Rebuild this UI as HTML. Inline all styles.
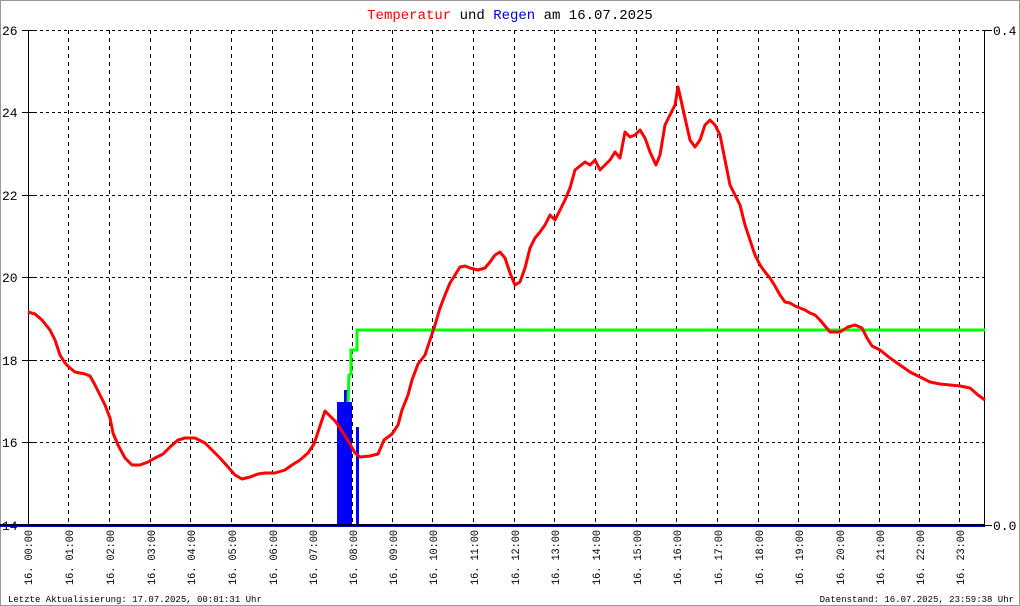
<!DOCTYPE html>
<html><head><meta charset="utf-8"><style>
html,body{margin:0;padding:0;background:#fff}
svg{display:block}
text{font-family:"Liberation Mono",monospace}
</style></head><body>
<svg width="1020" height="606" viewBox="0 0 1020 606" xmlns="http://www.w3.org/2000/svg">
<rect x="0.5" y="0.5" width="1019" height="605" fill="#fff" stroke="#999"/>
<text x="510" y="19" font-size="14" text-anchor="middle"><tspan fill="#f00">Temperatur</tspan><tspan fill="#000"> und </tspan><tspan fill="#00c">Regen</tspan><tspan fill="#000"> am 16.07.2025</tspan></text>
<g stroke="#000" stroke-dasharray="3,3" stroke-width="1">
<line x1="28" y1="30.5" x2="985" y2="30.5"/><line x1="28" y1="112.5" x2="985" y2="112.5"/><line x1="28" y1="195.5" x2="985" y2="195.5"/><line x1="28" y1="277.5" x2="985" y2="277.5"/><line x1="28" y1="360.5" x2="985" y2="360.5"/><line x1="28" y1="442.5" x2="985" y2="442.5"/>
</g>
<g stroke="#000" stroke-dasharray="4,4" stroke-width="1">
<line x1="68.5" y1="30" x2="68.5" y2="525"/><line x1="109.5" y1="30" x2="109.5" y2="525"/><line x1="150.5" y1="30" x2="150.5" y2="525"/><line x1="190.5" y1="30" x2="190.5" y2="525"/><line x1="231.5" y1="30" x2="231.5" y2="525"/><line x1="272.5" y1="30" x2="272.5" y2="525"/><line x1="312.5" y1="30" x2="312.5" y2="525"/><line x1="352.5" y1="30" x2="352.5" y2="525"/><line x1="392.5" y1="30" x2="392.5" y2="525"/><line x1="432.5" y1="30" x2="432.5" y2="525"/><line x1="473.5" y1="30" x2="473.5" y2="525"/><line x1="514.5" y1="30" x2="514.5" y2="525"/><line x1="554.5" y1="30" x2="554.5" y2="525"/><line x1="595.5" y1="30" x2="595.5" y2="525"/><line x1="636.5" y1="30" x2="636.5" y2="525"/><line x1="676.5" y1="30" x2="676.5" y2="525"/><line x1="717.5" y1="30" x2="717.5" y2="525"/><line x1="758.5" y1="30" x2="758.5" y2="525"/><line x1="798.5" y1="30" x2="798.5" y2="525"/><line x1="839.5" y1="30" x2="839.5" y2="525"/><line x1="879.5" y1="30" x2="879.5" y2="525"/><line x1="919.5" y1="30" x2="919.5" y2="525"/><line x1="959.5" y1="30" x2="959.5" y2="525"/>
</g>
<g stroke="#000" stroke-width="1">
<line x1="28.5" y1="30" x2="28.5" y2="526"/><line x1="984.5" y1="30" x2="984.5" y2="526"/>
<line x1="22" y1="30.5" x2="34" y2="30.5"/><line x1="22" y1="112.5" x2="34" y2="112.5"/><line x1="22" y1="195.5" x2="34" y2="195.5"/><line x1="22" y1="277.5" x2="34" y2="277.5"/><line x1="22" y1="360.5" x2="34" y2="360.5"/><line x1="22" y1="442.5" x2="34" y2="442.5"/>
<line x1="985" y1="30.5" x2="992" y2="30.5"/><line x1="985" y1="525.5" x2="992" y2="525.5"/>
</g>
<g font-size="13" fill="#000">
<text x="2" y="35">26</text><text x="2" y="117">24</text><text x="2" y="200">22</text><text x="2" y="282">20</text><text x="2" y="365">18</text><text x="2" y="447">16</text><text x="2" y="530">14</text>
<text x="993" y="35">0.4</text><text x="993" y="530">0.0</text>
</g>
<g fill="#00f">
<rect x="337" y="402" width="15" height="123"/><rect x="344" y="390" width="4" height="135"/><rect x="356" y="427" width="3" height="98"/>
</g>
<polyline fill="none" stroke="#0f0" stroke-width="3" points="348,402 349,375 351,374 351,350 357,350 357,330 985,330"/>
<polyline fill="none" stroke="#f00" stroke-width="3" stroke-linejoin="round" points="28,312 35,314 42,320 50,330 55,340 60,355 65,363 70,368 75,372 85,374 90,376 95,385 100,395 105,405 110,418 113,433 118,445 125,458 132,465 140,465 148,462 155,458 163,454 170,447 178,440 185,438 195,438 205,443 212,450 220,458 228,467 235,475 242,479 250,477 258,474 265,473 275,473 285,470 292,465 300,460 308,453 314,444 318,432 322,420 325,411 330,416 336,422 340,428 345,436 350,444 355,453 360,457 370,456 378,454 384,440 392,434 398,425 402,410 408,395 412,380 418,364 425,355 430,340 435,325 440,308 445,295 450,283 455,275 460,267 465,266 470,268 478,270 485,268 490,262 495,255 500,252 505,258 510,273 515,285 520,282 525,268 530,248 535,238 540,232 545,225 550,215 555,220 560,210 565,200 570,188 575,170 580,166 585,162 590,165 595,160 600,170 605,165 610,160 615,152 620,158 625,132 630,137 635,135 640,130 645,138 650,152 656,165 660,155 665,125 670,115 675,105 678,87 681,100 685,118 690,140 695,147 700,140 705,125 710,120 715,125 720,135 725,160 730,185 735,195 740,205 745,225 750,240 755,255 760,265 765,272 770,278 775,286 780,295 785,302 790,303 795,306 800,308 805,310 810,313 815,315 820,320 825,326 830,332 840,332 848,327 855,325 862,328 867,338 872,346 880,350 890,358 900,365 910,372 920,377 930,382 940,384 950,385 960,386 970,388 978,395 985,400"/>
<line x1="0" y1="525" x2="985" y2="525" stroke="#000" stroke-width="2"/>
<line x1="0" y1="526.5" x2="985" y2="526.5" stroke="#00c" stroke-width="1"/>
<g font-size="11" fill="#000">
<text transform="translate(32,585) rotate(-90)" textLength="55" lengthAdjust="spacingAndGlyphs">16. 00:00</text>
<text transform="translate(73,585) rotate(-90)" textLength="55" lengthAdjust="spacingAndGlyphs">16. 01:00</text>
<text transform="translate(114,585) rotate(-90)" textLength="55" lengthAdjust="spacingAndGlyphs">16. 02:00</text>
<text transform="translate(155,585) rotate(-90)" textLength="55" lengthAdjust="spacingAndGlyphs">16. 03:00</text>
<text transform="translate(195,585) rotate(-90)" textLength="55" lengthAdjust="spacingAndGlyphs">16. 04:00</text>
<text transform="translate(236,585) rotate(-90)" textLength="55" lengthAdjust="spacingAndGlyphs">16. 05:00</text>
<text transform="translate(277,585) rotate(-90)" textLength="55" lengthAdjust="spacingAndGlyphs">16. 06:00</text>
<text transform="translate(317,585) rotate(-90)" textLength="55" lengthAdjust="spacingAndGlyphs">16. 07:00</text>
<text transform="translate(357,585) rotate(-90)" textLength="55" lengthAdjust="spacingAndGlyphs">16. 08:00</text>
<text transform="translate(397,585) rotate(-90)" textLength="55" lengthAdjust="spacingAndGlyphs">16. 09:00</text>
<text transform="translate(437,585) rotate(-90)" textLength="55" lengthAdjust="spacingAndGlyphs">16. 10:00</text>
<text transform="translate(478,585) rotate(-90)" textLength="55" lengthAdjust="spacingAndGlyphs">16. 11:00</text>
<text transform="translate(519,585) rotate(-90)" textLength="55" lengthAdjust="spacingAndGlyphs">16. 12:00</text>
<text transform="translate(559,585) rotate(-90)" textLength="55" lengthAdjust="spacingAndGlyphs">16. 13:00</text>
<text transform="translate(600,585) rotate(-90)" textLength="55" lengthAdjust="spacingAndGlyphs">16. 14:00</text>
<text transform="translate(641,585) rotate(-90)" textLength="55" lengthAdjust="spacingAndGlyphs">16. 15:00</text>
<text transform="translate(681,585) rotate(-90)" textLength="55" lengthAdjust="spacingAndGlyphs">16. 16:00</text>
<text transform="translate(722,585) rotate(-90)" textLength="55" lengthAdjust="spacingAndGlyphs">16. 17:00</text>
<text transform="translate(763,585) rotate(-90)" textLength="55" lengthAdjust="spacingAndGlyphs">16. 18:00</text>
<text transform="translate(803,585) rotate(-90)" textLength="55" lengthAdjust="spacingAndGlyphs">16. 19:00</text>
<text transform="translate(844,585) rotate(-90)" textLength="55" lengthAdjust="spacingAndGlyphs">16. 20:00</text>
<text transform="translate(884,585) rotate(-90)" textLength="55" lengthAdjust="spacingAndGlyphs">16. 21:00</text>
<text transform="translate(924,585) rotate(-90)" textLength="55" lengthAdjust="spacingAndGlyphs">16. 22:00</text>
<text transform="translate(964,585) rotate(-90)" textLength="55" lengthAdjust="spacingAndGlyphs">16. 23:00</text>
</g>
<g font-size="9" fill="#000">
<text x="8" y="602">Letzte Aktualisierung: 17.07.2025, 00:01:31 Uhr</text>
<text x="1014" y="602" text-anchor="end">Datenstand: 16.07.2025, 23:59:38 Uhr</text>
</g>
</svg>
</body></html>
